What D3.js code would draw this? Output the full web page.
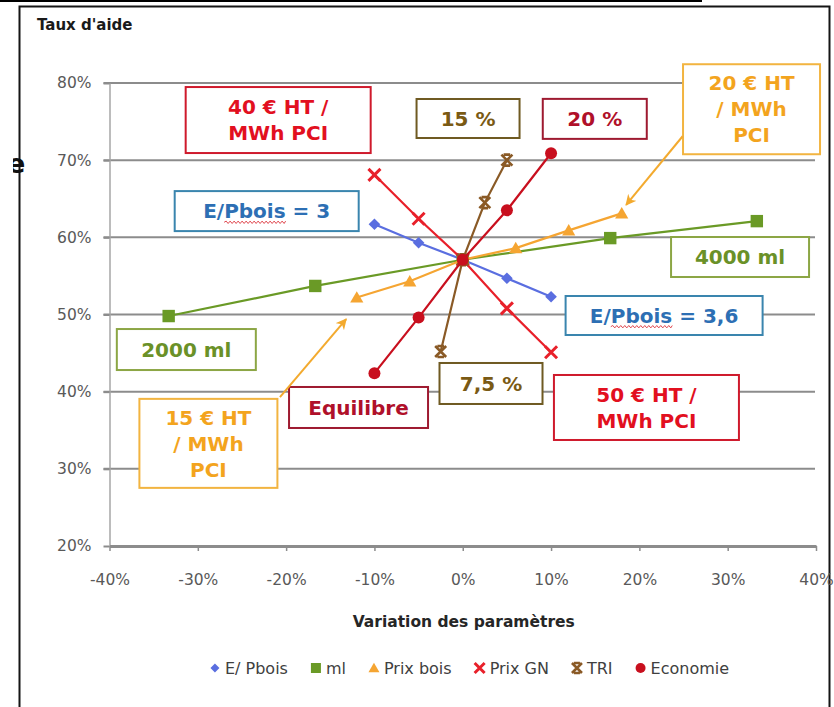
<!DOCTYPE html>
<html>
<head>
<meta charset="utf-8">
<script src="https://cdn.jsdelivr.net/npm/d3@7"></script>
<style>
  html, body { margin: 0; padding: 0; background: #fff; }
  svg { display: block; }
</style>
</head>
<body>
<script>
// Taux d'aide en fonction de la variation de chaque paramètre du projet
const variationTicks = [-0.4, -0.3, -0.2, -0.1, 0, 0.1, 0.2, 0.3, 0.4];
const tauxTicks = [0.2, 0.3, 0.4, 0.5, 0.6, 0.7, 0.8];
const seriesNames = ["E/ Pbois", "ml", "Prix bois", "Prix GN", "TRI", "Economie"];

const ePboisVar = [-0.10, -0.05, 0, 0.05, 0.10];
const ePboisTaux = [0.617, 0.593, 0.571, 0.547, 0.523];
const mlVar = [-0.333, -0.167, 0, 0.167, 0.333];
const mlTaux = [0.498, 0.537, 0.571, 0.599, 0.621];
const prixBoisVar = [-0.12, -0.06, 0, 0.06, 0.12, 0.18];
const prixBoisTaux = [0.522, 0.543, 0.571, 0.586, 0.609, 0.631];
const prixGNVar = [-0.10, -0.05, 0, 0.05, 0.10];
const prixGNTaux = [0.681, 0.624, 0.571, 0.508, 0.451];
const triVar = [-0.025, 0, 0.025, 0.05];
const triTaux = [0.452, 0.571, 0.645, 0.700];
const economieVar = [-0.10, -0.05, 0, 0.05, 0.10];
const economieTaux = [0.424, 0.496, 0.571, 0.635, 0.709];

// Callout texts, one entry per box
const noteTexts = [
  ["40 € HT /", "MWh PCI"],
  ["15 %"],
  ["20 %"],
  ["20 € HT", "/ MWh", "PCI"],
  ["E/Pbois = 3"],
  ["2000 ml"],
  ["15 € HT", "/ MWh", "PCI"],
  ["Equilibre"],
  ["4000 ml"],
  ["E/Pbois = 3,6"],
  ["7,5 %"],
  ["50 € HT /", "MWh PCI"]
];

// ---- layout and styling ----
const W = 834, H = 707;
const FONT = "'DejaVu Sans', Verdana, sans-serif";

const seriesStyle = [
  { color: "#5a6ee0", marker: "diamond" },
  { color: "#6a9a26", marker: "square" },
  { color: "#f5a532", marker: "triangle" },
  { color: "#e8202a", marker: "cross" },
  { color: "#8a5a26", marker: "star" },
  { color: "#c80f1e", marker: "circle" }
];
const seriesData = [
  [ePboisVar, ePboisTaux],
  [mlVar, mlTaux],
  [prixBoisVar, prixBoisTaux],
  [prixGNVar, prixGNTaux],
  [triVar, triTaux],
  [economieVar, economieTaux]
];

const noteStyles = {
  gn:    { stroke: "#cf1a2c", text: "#e2101f" },
  tri:   { stroke: "#6f5a22", text: "#7a5a14" },
  eco:   { stroke: "#9e1a30", text: "#b0102a" },
  bois:  { stroke: "#f2b440", text: "#f3a41e" },
  pbois: { stroke: "#3a85ae", text: "#2d6fb4" },
  ml:    { stroke: "#8ca645", text: "#6a9128" }
};
// box centres in chart units, sizes in pixels
const noteLayout = [
  { cx: -0.209, cy: 0.752,  w: 185, h: 66, style: "gn" },
  { cx: 0.006,  cy: 0.754,  w: 103, h: 39, style: "tri" },
  { cx: 0.1495, cy: 0.7535, w: 104, h: 40, style: "eco" },
  { cx: 0.327,  cy: 0.766,  w: 137, h: 90, style: "bois" },
  { cx: -0.222, cy: 0.634,  w: 184, h: 40, style: "pbois", squiggle: "Pbois" },
  { cx: -0.313, cy: 0.4546, w: 139, h: 41, style: "ml" },
  { cx: -0.288, cy: 0.333,  w: 138, h: 89, style: "bois" },
  { cx: -0.118, cy: 0.3795, w: 139, h: 41, style: "eco" },
  { cx: 0.314,  cy: 0.5745, w: 138, h: 40, style: "ml" },
  { cx: 0.228,  cy: 0.4987, w: 197, h: 39, style: "pbois", squiggle: "Pbois" },
  { cx: 0.032,  cy: 0.4106, w: 103, h: 41, style: "tri" },
  { cx: 0.208,  cy: 0.3795, w: 185, h: 65, style: "gn" }
];
const arrowLinks = [
  { from: [-0.207, 0.393], to: [-0.132, 0.494] },
  { from: [0.249, 0.731],  to: [0.185, 0.642] }
];

const svg = d3.select("body").append("svg").attr("width", W).attr("height", H);
svg.append("rect").attr("width", W).attr("height", H).attr("fill", "#fff");

const x = d3.scaleLinear().domain([-0.4, 0.4]).range([109.5, 816]);
const y = d3.scaleLinear().domain([0.2, 0.8]).range([546, 83]);
const pct = d => Math.round(d * 100) + "%";

// page rule and frame
svg.append("rect").attr("x", 0).attr("y", 0).attr("width", 702).attr("height", 2).attr("fill", "#000");
svg.append("path").attr("d", "M19.5,707V6.5H829.5V707")
  .attr("fill", "none").attr("stroke", "#151515").attr("stroke-width", 2);

// clipped letter at the left edge
svg.append("clipPath").attr("id", "edgeClip")
  .append("rect").attr("x", 13).attr("y", 140).attr("width", 20).attr("height", 40);
svg.append("text").attr("clip-path", "url(#edgeClip)")
  .attr("x", 7).attr("y", 173).attr("font-family", FONT).attr("font-weight", "bold")
  .attr("font-size", 27).attr("fill", "#111").text("e");

// y axis title
svg.append("text").attr("x", 37).attr("y", 30)
  .attr("font-family", FONT).attr("font-weight", "bold").attr("font-size", 15)
  .attr("fill", "#1a1a1a").text("Taux d'aide");

// horizontal gridlines
svg.append("g").selectAll("line")
  .data(tauxTicks.filter(t => t > 0.2))
  .join("line")
  .attr("x1", x.range()[0] - 6).attr("x2", x.range()[1] - 1)
  .attr("y1", d => y(d)).attr("y2", d => y(d))
  .attr("stroke", "#8c8c8c").attr("stroke-width", 2);

// y axis
const yAxis = svg.append("g").attr("transform", `translate(${x.range()[0]},0)`)
  .call(d3.axisLeft(y).tickValues(tauxTicks).tickFormat(pct)
    .tickSize(6).tickSizeOuter(0).tickPadding(12));
yAxis.select(".domain").attr("stroke", "#a6a6a6").attr("stroke-width", 1.5);
yAxis.selectAll(".tick line").attr("stroke", "#8c8c8c").attr("stroke-width", 2);
yAxis.selectAll("text").attr("font-family", FONT).attr("font-size", 15.5).attr("fill", "#595959");

// x axis
const xAxis = svg.append("g").attr("transform", `translate(0,${y.range()[0]})`)
  .call(d3.axisBottom(x).tickValues(variationTicks).tickFormat(pct)
    .tickSize(5).tickSizeOuter(0).tickPadding(23));
xAxis.select(".domain").attr("stroke", "#8c8c8c").attr("stroke-width", 3);
xAxis.selectAll(".tick line").attr("stroke", "#8c8c8c").attr("stroke-width", 1.5);
xAxis.selectAll("text").attr("font-family", FONT).attr("font-size", 15.5).attr("fill", "#595959");

svg.append("text").attr("x", (x.range()[0] + x.range()[1]) / 2 + 1).attr("y", 627)
  .attr("text-anchor", "middle").attr("font-family", FONT).attr("font-weight", "bold")
  .attr("font-size", 15.5).attr("fill", "#262626").text("Variation des paramètres");

// marker drawing
function drawMarker(g, type, color, s) {
  if (type === "diamond") {
    g.append("path").attr("d", `M0,${-s}L${s},0L0,${s}L${-s},0Z`).attr("fill", color);
  } else if (type === "square") {
    g.append("rect").attr("x", -s).attr("y", -s).attr("width", 2 * s).attr("height", 2 * s)
      .attr("fill", color);
  } else if (type === "triangle") {
    g.append("path").attr("d", `M0,${-s * 1.05}L${s * 1.1},${s * 0.85}L${-s * 1.1},${s * 0.85}Z`)
      .attr("fill", color);
  } else if (type === "cross") {
    g.append("path").attr("d", `M${-s},${-s}L${s},${s}M${s},${-s}L${-s},${s}`)
      .attr("stroke", color).attr("stroke-width", 3).attr("fill", "none");
  } else if (type === "star") {
    g.append("path")
      .attr("d", `M${-s},${-s}L${s},${s}M${s},${-s}L${-s},${s}M${-s * 0.6},${-s}H${s * 0.6}M${-s * 0.6},${s}H${s * 0.6}`)
      .attr("stroke", color).attr("stroke-width", 2.6).attr("fill", "none");
  } else if (type === "circle") {
    g.append("circle").attr("r", s).attr("fill", color);
  }
}
const markerSize = { diamond: 5.8, square: 6.2, triangle: 6, cross: 6, star: 5.5, circle: 6 };

const line = d3.line().x(d => x(d[0])).y(d => y(d[1]));
const plot = svg.append("g");
seriesData.forEach(([vars, taux], i) => {
  const pts = vars.map((v, k) => [v, taux[k]]);
  const st = seriesStyle[i];
  const g = plot.append("g");
  g.append("path").attr("d", line(pts)).attr("fill", "none")
    .attr("stroke", st.color).attr("stroke-width", 2.2);
  g.selectAll("g.pt").data(pts).join("g").attr("class", "pt")
    .attr("transform", d => `translate(${x(d[0])},${y(d[1])})`)
    .each(function () { drawMarker(d3.select(this), st.marker, st.color, markerSize[st.marker]); });
});

// callout boxes
const notes = svg.append("g");
noteLayout.forEach((n, i) => {
  const st = noteStyles[n.style];
  const cx = x(n.cx), cy = y(n.cy);
  notes.append("rect").attr("x", cx - n.w / 2).attr("y", cy - n.h / 2)
    .attr("width", n.w).attr("height", n.h)
    .attr("fill", "#fff").attr("stroke", st.stroke).attr("stroke-width", 2);
  const lines = noteTexts[i];
  const fs = 20, lh = 26;
  const base0 = cy + 0.36 * fs - (lines.length - 1) * lh / 2;
  lines.forEach((t, k) => {
    const txt = notes.append("text").attr("x", cx).attr("y", base0 + k * lh)
      .attr("text-anchor", "middle").attr("font-family", FONT).attr("font-weight", "bold")
      .attr("font-size", fs).attr("fill", st.text).text(t);
    if (n.squiggle && t.includes(n.squiggle)) {
      const node = txt.node();
      const i0 = t.indexOf(n.squiggle), i1 = i0 + n.squiggle.length - 1;
      const xa = node.getStartPositionOfChar(i0).x;
      const xb = node.getEndPositionOfChar(i1).x;
      const yb = base0 + k * lh + 4;
      let d = `M${xa},${yb}`;
      for (let xx = xa, up = true; xx < xb; xx += 2, up = !up) {
        d += `L${Math.min(xx + 2, xb)},${yb + (up ? -1.2 : 1.2)}`;
      }
      notes.append("path").attr("d", d).attr("fill", "none")
        .attr("stroke", "#e0484f").attr("stroke-width", 1);
    }
  });
});

// arrows from the price boxes
svg.append("defs").append("marker").attr("id", "arrowHead")
  .attr("viewBox", "0 0 10 10").attr("refX", 9).attr("refY", 5)
  .attr("markerWidth", 11).attr("markerHeight", 11).attr("markerUnits", "userSpaceOnUse")
  .attr("orient", "auto")
  .append("path").attr("d", "M0,0L10,5L0,10L3,5Z").attr("fill", "#f3aa2e");
svg.append("g").selectAll("line").data(arrowLinks).join("line")
  .attr("x1", d => x(d.from[0])).attr("y1", d => y(d.from[1]))
  .attr("x2", d => x(d.to[0])).attr("y2", d => y(d.to[1]))
  .attr("stroke", "#f3aa2e").attr("stroke-width", 2)
  .attr("marker-end", "url(#arrowHead)");

// legend
const legend = svg.append("g").attr("transform", "translate(0,668)");
const legendFont = 16, gapMarkerText = 10, gapItems = 28;
let cursor = 0;
const items = seriesNames.map((name, i) => {
  const g = legend.append("g");
  const t = g.append("text").attr("x", gapMarkerText).attr("y", 0.36 * legendFont)
    .attr("font-family", FONT).attr("font-size", legendFont).attr("fill", "#404040").text(name);
  drawMarker(g.append("g"), seriesStyle[i].marker, seriesStyle[i].color,
    seriesStyle[i].marker === "diamond" ? 4.5 : 5);
  const w = gapMarkerText + t.node().getComputedTextLength();
  const item = { g, x: cursor };
  cursor += w + gapItems;
  return item;
});
const total = cursor - gapItems;
const start = 467 - total / 2 + 5;
items.forEach(it => it.g.attr("transform", `translate(${start + it.x},0)`));
</script>
</body>
</html>
